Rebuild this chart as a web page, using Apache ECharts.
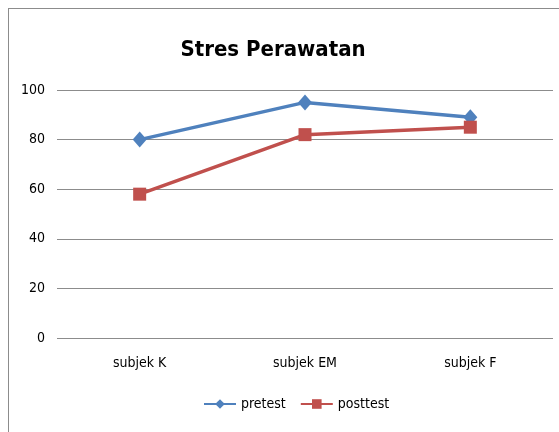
<!DOCTYPE html>
<html>
<head>
<meta charset="utf-8">
<script src="https://cdn.jsdelivr.net/npm/echarts@6/dist/echarts.min.js"></script>
<style>
  html, body { margin: 0; padding: 0; background: #fff; }
  #frame { position: absolute; left: 8px; top: 8px; width: 600px; height: 480px; border: 1px solid #8c8c8c; box-sizing: border-box; }
  #chart { position: absolute; left: 0; top: 0; width: 559px; height: 432px; }
</style>
</head>
<body>
<div id="frame"></div>
<div id="chart"></div>
<script>
  // data
  var categories = ['subjek K', 'subjek EM', 'subjek F'];
  var seriesNames = ['pretest', 'posttest'];
  var pretest = [80, 95, 89];
  var posttest = [58, 82, 85];
  var yTicks = [0, 20, 40, 60, 80, 100];

  var colors = ['#4F81BD', '#C0504D'];
  var font = '"DejaVu Sans Condensed", sans-serif';

  var myChart = echarts.init(document.getElementById('chart'));
  myChart.setOption({
    animation: false,
    title: {
      text: 'Stres Perawatan',
      left: 268,
      top: 34,
      textAlign: 'center',
      textStyle: { fontFamily: font, fontSize: 22, fontWeight: 'bold', color: '#000' }
    },
    grid: { left: 57, right: 6, top: 90, bottom: 94 },
    legend: {
      bottom: 16,
      left: 198,
      itemWidth: 32,
      itemHeight: 12,
      itemGap: 14,
      textStyle: { fontFamily: font, fontSize: 14, color: '#000' },
      data: seriesNames
    },
    xAxis: {
      type: 'category',
      data: categories,
      boundaryGap: true,
      axisLine: { show: false },
      axisTick: { show: false },
      axisLabel: { fontFamily: font, fontSize: 14, color: '#000', margin: 18 }
    },
    yAxis: {
      type: 'value',
      min: yTicks[0],
      max: yTicks[yTicks.length - 1],
      interval: 20,
      axisLine: { show: false },
      axisTick: { show: false },
      axisLabel: { fontFamily: font, fontSize: 14, color: '#000', margin: 12 },
      splitLine: { lineStyle: { color: '#8c8c8c', width: 1 } }
    },
    series: [
      {
        name: seriesNames[0],
        type: 'line',
        data: pretest,
        symbol: 'diamond',
        symbolSize: [14, 16],
        lineStyle: { width: 3.5, color: colors[0] },
        itemStyle: { color: colors[0] }
      },
      {
        name: seriesNames[1],
        type: 'line',
        data: posttest,
        symbol: 'rect',
        symbolSize: 13,
        lineStyle: { width: 3.5, color: colors[1] },
        itemStyle: { color: colors[1] }
      }
    ]
  });
</script>
</body>
</html>
